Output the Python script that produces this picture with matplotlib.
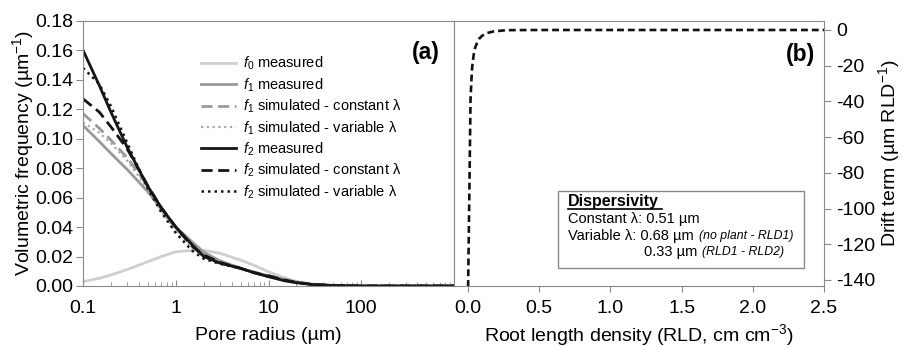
import matplotlib
matplotlib.use("Agg")
import matplotlib.pyplot as plt
from matplotlib.patches import Rectangle
from matplotlib.ticker import FixedLocator, FixedFormatter, LogLocator, NullFormatter

plt.rcParams['font.family'] = ['Liberation Sans', 'DejaVu Sans']
plt.rcParams['mathtext.fontset'] = 'custom'
plt.rcParams['mathtext.rm'] = 'Liberation Sans'
plt.rcParams['mathtext.it'] = 'Liberation Sans:italic'
plt.rcParams['mathtext.bf'] = 'Liberation Sans:bold'
plt.rcParams['axes.unicode_minus'] = False

# ---------------- data: panel (a) ----------------
pore_radius = [0.1, 0.15, 0.2, 0.3, 0.5, 0.7, 1, 1.5, 2, 3, 5, 7, 10, 15, 20, 30, 50, 100, 1000]
f0_measured = [0.003, 0.0052, 0.0075, 0.0112, 0.0165, 0.020, 0.0232, 0.0242, 0.0242, 0.0222, 0.0176, 0.014, 0.0097, 0.0055, 0.003, 0.001, 0.0002, 0.0, 0.0]
f1_measured = [0.109, 0.098, 0.090, 0.079, 0.064, 0.052, 0.040, 0.030, 0.023, 0.017, 0.012, 0.009, 0.0065, 0.004, 0.0025, 0.001, 0.0004, 0.0, 0.0]
f1_sim_const = [0.117, 0.107, 0.099, 0.087, 0.068, 0.053, 0.039, 0.028, 0.022, 0.017, 0.012, 0.0095, 0.007, 0.0045, 0.0028, 0.0012, 0.0004, 0.0, 0.0]
f1_sim_var = [0.111, 0.104, 0.097, 0.085, 0.066, 0.051, 0.037, 0.026, 0.020, 0.016, 0.012, 0.0095, 0.007, 0.0045, 0.0028, 0.0012, 0.0004, 0.0, 0.0]
f2_measured = [0.160, 0.136, 0.118, 0.094, 0.0674, 0.053, 0.040, 0.028, 0.020, 0.0155, 0.012, 0.009, 0.0063, 0.0035, 0.0022, 0.001, 0.0003, 0.0, 0.0]
f2_sim_const = [0.127, 0.118, 0.108, 0.093, 0.068, 0.053, 0.040, 0.027, 0.021, 0.016, 0.012, 0.009, 0.007, 0.004, 0.0025, 0.001, 0.0003, 0.0, 0.0]
f2_sim_var = [0.148, 0.137, 0.122, 0.097, 0.066, 0.050, 0.036, 0.024, 0.0185, 0.015, 0.012, 0.009, 0.0065, 0.0038, 0.0023, 0.001, 0.0003, 0.0, 0.0]
labels_a = ['$\\mathit{f}_0$ measured',
            '$\\mathit{f}_1$ measured',
            '$\\mathit{f}_1$ simulated - constant λ',
            '$\\mathit{f}_1$ simulated - variable λ',
            '$\\mathit{f}_2$ measured',
            '$\\mathit{f}_2$ simulated - constant λ',
            '$\\mathit{f}_2$ simulated - variable λ']
xticks_a = [0.1, 1, 10, 100, 1000]
xticklabels_a = ['0.1', '1', '10', '100', '']
yticks_a = [0.00, 0.02, 0.04, 0.06, 0.08, 0.10, 0.12, 0.14, 0.16, 0.18]

# ---------------- data: panel (b) ----------------
rld = [0.0, 0.01, 0.018, 0.025, 0.03, 0.04, 0.05, 0.063, 0.08, 0.1, 0.13, 0.18, 0.27, 0.5, 1.0, 1.5, 2.0, 2.5]
drift = [-150, -90, -39, -27, -20.5, -14, -10, -7.4, -4.8, -3.2, -1.8, -0.8, -0.1, 0, 0, 0, 0, 0]
xticks_b = [0.0, 0.5, 1.0, 1.5, 2.0, 2.5]
yticks_b = [0, -20, -40, -60, -80, -100, -120, -140]

SPINE = '#8a8a8a'
FS = 14

fig = plt.figure(figsize=(9.04, 3.47), dpi=100)
W, H = 904, 347
def fig_rect(x0, y0, x1, y1):
    return [x0 / W, 1 - y1 / H, (x1 - x0) / W, (y1 - y0) / H]

ax1 = fig.add_axes(fig_rect(83, 20.7, 454, 286))
ax2 = fig.add_axes(fig_rect(454, 20.7, 824, 286))

# ---- panel (a)
styles = [
    dict(color='#cfcfcf', lw=2.0, ls='-'),
    dict(color='#9a9a9a', lw=2.0, ls='-'),
    dict(color='#9a9a9a', lw=2.0, ls=(0, (4, 2))),
    dict(color='#a8a8a8', lw=1.6, ls=(0, (1, 1.6))),
    dict(color='#151515', lw=2.0, ls='-'),
    dict(color='#151515', lw=2.0, ls=(0, (4, 2))),
    dict(color='#151515', lw=1.8, ls=(0, (1, 1.6))),
]
series = [f0_measured, f1_measured, f1_sim_const, f1_sim_var, f2_measured, f2_sim_const, f2_sim_var]
for y, st, lab in zip(series, styles, labels_a):
    ax1.plot(pore_radius, y, label=lab, clip_on=True, **st)

ax1.set_xscale('log')
ax1.set_xlim(0.1, 1000)
ax1.set_ylim(0, 0.18)
ax1.xaxis.set_major_locator(FixedLocator(xticks_a))
ax1.xaxis.set_major_formatter(FixedFormatter(xticklabels_a))
ax1.xaxis.set_minor_locator(LogLocator(base=10, subs=range(2, 10), numticks=20))
ax1.xaxis.set_minor_formatter(NullFormatter())
ax1.set_yticks(yticks_a)
ax1.set_yticklabels([f'{v:.2f}' for v in yticks_a])
ax1.tick_params(axis='x', which='both', direction='in', length=4, color=SPINE, labelsize=FS, pad=10)
ax1.tick_params(axis='x', which='minor', length=3)
ax1.tick_params(axis='y', direction='out', length=5, color=SPINE, labelsize=FS, pad=2)
for s in ax1.spines.values():
    s.set_color(SPINE)
ax1.set_xlabel('Pore radius (µm)', fontsize=FS, va='center')
ax1.xaxis.set_label_coords(0.5, (286 - 336) / 265.3)
ax1.set_ylabel('Volumetric frequency (µm$^{-1}$)', fontsize=FS, va='center')
ax1.yaxis.set_label_coords((23 - 83) / 371, 0.5)
ax1.text(0.962, 0.882, '(a)', transform=ax1.transAxes, ha='right', va='center',
         fontsize=16.5, fontweight='bold')
leg = ax1.legend(loc='upper left', bbox_to_anchor=(0.318, 0.872), frameon=False,
                 fontsize=10.5, handlelength=2.4, handletextpad=0.5, labelspacing=0.28,
                 borderpad=0, borderaxespad=0)

# ---- panel (b)
ax2.plot(rld, drift, color='#111111', lw=1.9, ls=(0, (2.6, 1.5)))
ax2.set_xlim(-0.098, 2.5)
ax2.set_ylim(-143.4, 5.2)
ax2.set_xticks(xticks_b)
ax2.set_xticklabels([f'{v:.1f}' for v in xticks_b])
ax2.set_yticks(yticks_b)
ax2.set_yticklabels([str(v) for v in yticks_b])
ax2.yaxis.tick_right()
ax2.yaxis.set_label_position('right')
ax2.tick_params(axis='x', direction='out', length=4, color=SPINE, labelsize=FS, pad=6)
ax2.tick_params(axis='y', direction='out', length=5, color=SPINE, labelsize=FS, pad=4)
for s in ax2.spines.values():
    s.set_color(SPINE)
ax2.set_xlabel('Root length density (RLD, cm cm$^{-3}$)', fontsize=FS, va='center')
ax2.xaxis.set_label_coords(0.5, (286 - 335) / 265.3)
ax2.set_ylabel('Drift term (µm RLD$^{-1}$)', fontsize=FS, va='center')
ax2.yaxis.set_label_coords((889 - 454) / 370, 0.5)
ax2.text(0.976, 0.871, '(b)', transform=ax2.transAxes, ha='right', va='center',
         fontsize=16.5, fontweight='bold')

# inset box
ax2.add_patch(Rectangle((0.281, 0.068), 0.946 - 0.281, 0.358 - 0.068, transform=ax2.transAxes,
                        facecolor='white', edgecolor=SPINE, lw=1.0, zorder=5))
tx = 0.308
ax2.text(tx, 0.317, 'Dispersivity', transform=ax2.transAxes, fontsize=11.5, fontweight='bold',
         va='center', ha='left', zorder=6)
ax2.plot([0.308, 0.562], [0.292, 0.292], transform=ax2.transAxes, color='black', lw=1.2, zorder=6)
ax2.text(tx, 0.2525, 'Constant λ: 0.51 µm', transform=ax2.transAxes, fontsize=10.5,
         va='center', ha='left', zorder=6)
ax2.text(tx, 0.1885, 'Variable λ: 0.68 µm', transform=ax2.transAxes, fontsize=10.5,
         va='center', ha='left', zorder=6)
ax2.text(0.662, 0.1885, '(no plant - RLD1)', transform=ax2.transAxes, fontsize=8.8, style='italic',
         va='center', ha='left', zorder=6)
ax2.text(0.514, 0.128, '0.33 µm', transform=ax2.transAxes, fontsize=10.5,
         va='center', ha='left', zorder=6)
ax2.text(0.670, 0.128, '(RLD1 - RLD2)', transform=ax2.transAxes, fontsize=8.8, style='italic',
         va='center', ha='left', zorder=6)

fig.savefig('out.png', dpi=100)
